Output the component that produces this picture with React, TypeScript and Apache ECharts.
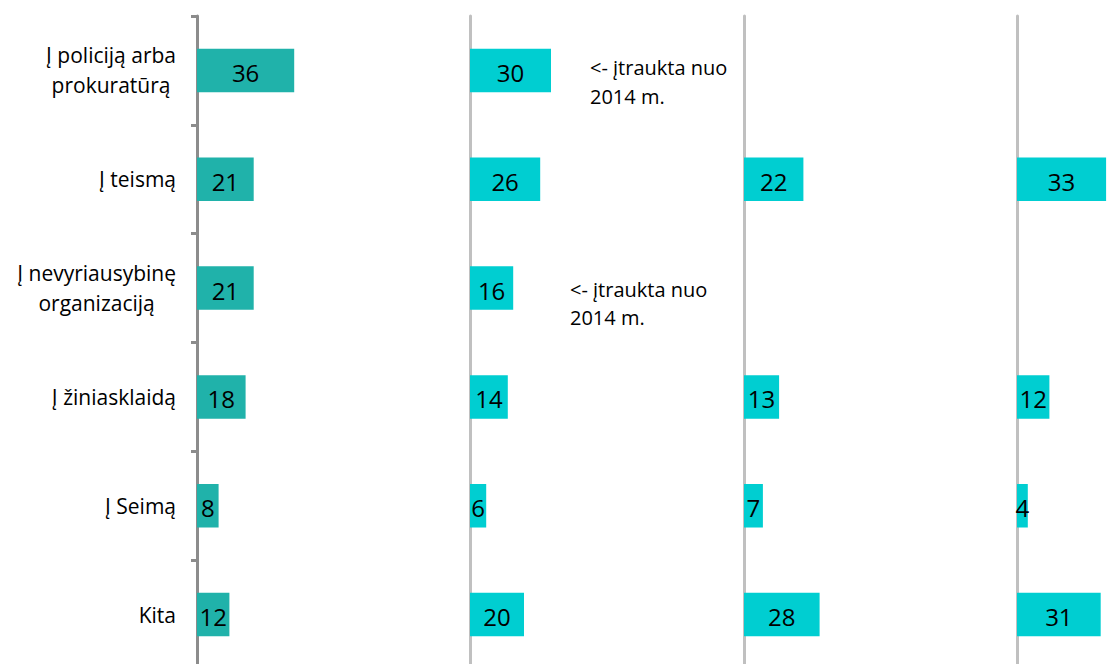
import React, { useEffect, useRef } from "react";
import * as echarts from "echarts";

const categories = [
  "Į policiją arba\nprokuratūrą",
  "Į teismą",
  "Į nevyriausybinę\norganizaciją",
  "Į žiniasklaidą",
  "Į Seimą",
  "Kita",
];
const panel1 = [36, 21, 21, 18, 8, 12];
const panel2 = [30, 26, 16, 14, 6, 20];
const panel3 = [null, 22, null, 13, 7, 28];
const panel4 = [null, 33, null, 12, 4, 31];
const panels = [panel1, panel2, panel3, panel4];
const panelColors = ["#20B2AA", "#00CED1", "#00CED1", "#00CED1"];
const annotationText = "<- įtraukta nuo\n2014 m.";

const FONT = "'Open Sans', sans-serif";
const gridLefts = [197, 470, 744, 1017];

export default function App() {
  const ref = useRef<HTMLDivElement>(null);
  useEffect(() => {
    if (!ref.current) return;
    const chart = echarts.init(ref.current, null, { renderer: "svg" });
    const grids = gridLefts.map((left) => ({
      left,
      top: 16,
      width: 270,
      height: 653,
      containLabel: false,
    }));
    const xAxis = panels.map((_, i) => ({
      type: "value",
      gridIndex: i,
      min: 0,
      max: 100,
      show: false,
    }));
    const yAxis = panels.map((_, i) => ({
      type: "category",
      gridIndex: i,
      inverse: true,
      data: categories,
      axisLine: {
        show: true,
        lineStyle: { color: i === 0 ? "#8c8c8c" : "#c0c0c0", width: 3 },
      },
      axisTick: {
        show: i === 0,
        length: 6,
        lineStyle: { color: "#8c8c8c", width: 3 },
      },
      splitLine: { show: false },
      axisLabel: {
        show: i === 0,
        margin: 21,
        formatter: (v: string) =>
          v
            .split("\n")
            .map((l) => `{c|${l}}`)
            .join("\n"),
        rich: {
          c: {
            fontSize: 21,
            fontFamily: FONT,
            color: "#000",
            lineHeight: 30,
            align: "center",
          },
        },
      },
    }));
    const series = panels.map((d, i) => ({
      type: "bar",
      xAxisIndex: i,
      yAxisIndex: i,
      data: d,
      barCategoryGap: "60%",
      itemStyle: { color: panelColors[i] },
      label: {
        show: true,
        position: "inside",
        offset: [0, 2],
        fontSize: 24,
        fontFamily: FONT,
        color: "#000",
      },
    }));
    chart.setOption({
      animation: false,
      backgroundColor: "#fff",
      grid: grids,
      xAxis,
      yAxis,
      series,
      graphic: [
        {
          type: "text",
          left: 590,
          top: 53,
          style: {
            text: annotationText,
            fontSize: 20,
            fontFamily: FONT,
            fill: "#000",
            lineHeight: 29,
          },
        },
        {
          type: "text",
          left: 570,
          top: 275,
          style: {
            text: annotationText,
            fontSize: 20,
            fontFamily: FONT,
            fill: "#000",
            lineHeight: 28,
          },
        },
      ],
    });
    return () => chart.dispose();
  }, []);
  return (
    <div
      style={{
        position: "absolute",
        left: 0,
        top: 0,
        width: 1111,
        height: 664,
        overflow: "hidden",
        background: "#fff",
      }}
    >
      <div ref={ref} style={{ width: 1320, height: 700 }} />
    </div>
  );
}
